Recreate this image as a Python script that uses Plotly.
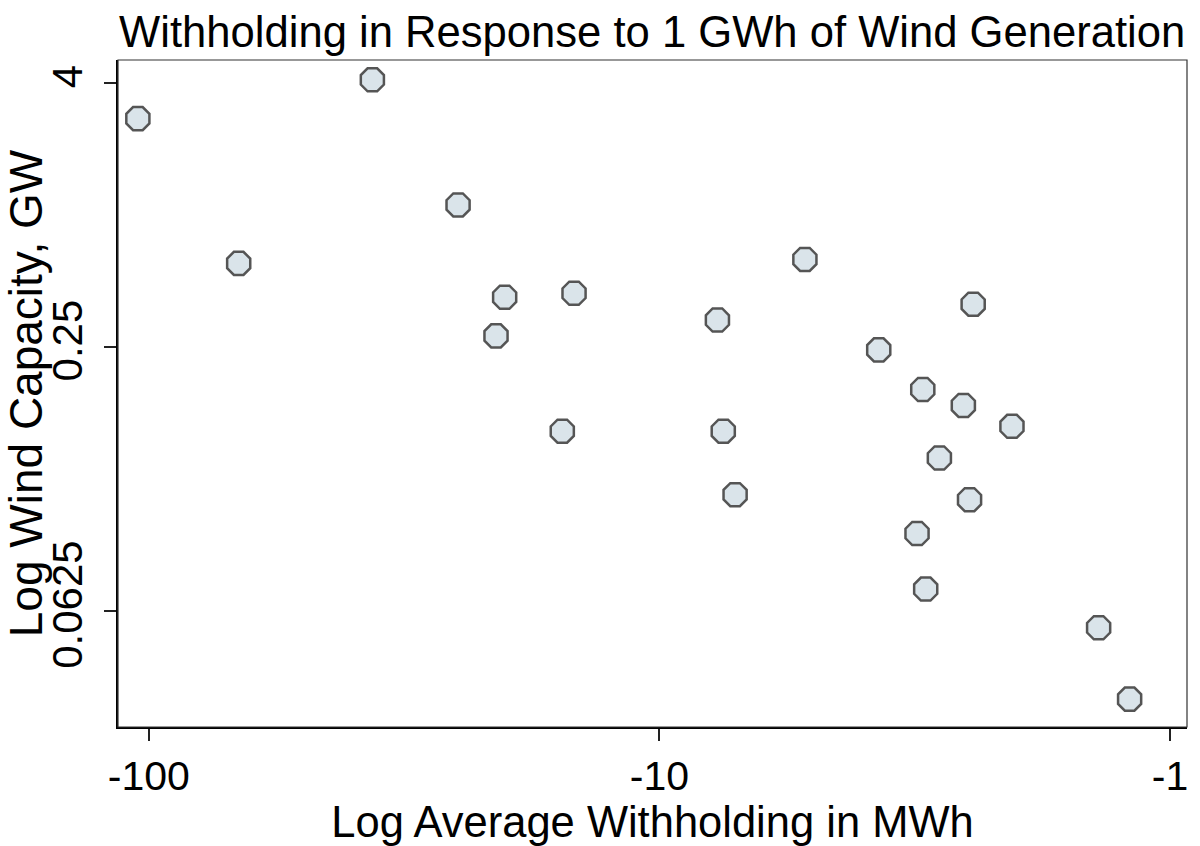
import plotly.graph_objects as go

# Average withholding (MWh, negative) and log wind capacity (axis units)
withholding = [-105.1, -36.5, -66.7, -24.8, -20.1, -20.9, -14.7, -15.5, -7.70, -7.50,
               -7.11, -5.19, -3.72, -3.05, -2.43, -2.54, -2.04, -2.83, -2.47, -3.13,
               -3.01, -1.38, -1.20]
log_capacity = [1.729, 2.023, 0.632, 1.075, 0.376, 0.083, 0.406, -0.639, 0.203, -0.639,
                -1.120, 0.662, -0.023, -0.323, 0.323, -0.444, -0.602, -0.842, -1.158, -1.414,
                -1.835, -2.128, -2.669]

x_tickvals = [100, 10, 1]
x_ticktext = ["-100", "-10", "-1"]
y_tickvals = [2, 0, -2]
y_ticktext = ["4", "0.25", "0.0625"]

FONT = "Liberation Sans, Arial, sans-serif"

fig = go.Figure()
fig.add_trace(go.Scatter(
    x=[-w for w in withholding],
    y=log_capacity,
    mode="markers",
    marker=dict(symbol="octagon", size=25, color="#dae4ea",
                line=dict(color="#555555", width=2.5)),
    showlegend=False,
))

fig.update_layout(
    width=1200, height=846,
    margin=dict(l=116, r=12, t=60, b=114),
    paper_bgcolor="white", plot_bgcolor="white",
    font=dict(family=FONT, color="black"),
    title=dict(text="Withholding in Response to 1 GWh of Wind Generation",
               x=0.5435, xanchor="center", y=1 - 32 / 846, yanchor="middle",
               yref="container", font=dict(size=43.6, family=FONT, color="black")),
    xaxis=dict(type="log", range=[2.0605, -0.0332], tickvals=x_tickvals, ticktext=x_ticktext,
               showgrid=False, zeroline=False, showline=True, linecolor="black", linewidth=2,
               ticks="outside", ticklen=12, tickwidth=1.5, tickcolor="#222",
               tickfont=dict(size=41, family=FONT),
               title=dict(text="Log Average Withholding in MWh", font=dict(size=43.5, family=FONT),
                          standoff=4)),
    yaxis=dict(range=[-2.880, 2.173], tickvals=y_tickvals, ticktext=y_ticktext,
               tickangle=-90, ticklabelstandoff=5,
               showgrid=False, zeroline=False, showline=True, linecolor="black", linewidth=2,
               ticks="outside", ticklen=12, tickwidth=1.5, tickcolor="#222",
               tickfont=dict(size=42, family=FONT),
               title=dict(text="Log Wind Capacity, GW", font=dict(size=46, family=FONT),
                          standoff=0)),
    shapes=[dict(type="rect", xref="paper", yref="paper", x0=0, y0=0, x1=1, y1=1,
                 line=dict(color="#333", width=1.2), layer="above")],
)

fig.write_html("out.html")
